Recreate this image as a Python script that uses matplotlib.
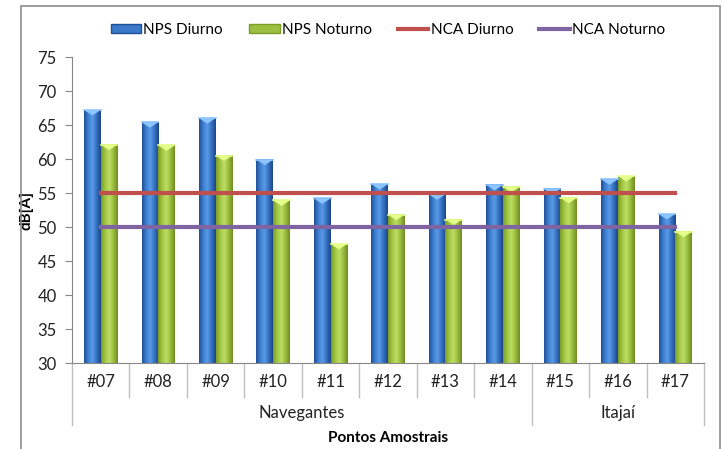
import matplotlib
matplotlib.use("Agg")
import matplotlib.pyplot as plt
import numpy as np
from matplotlib.colors import LinearSegmentedColormap
from matplotlib.lines import Line2D
from matplotlib.patches import Rectangle

categories = ["#07", "#08", "#09", "#10", "#11", "#12", "#13", "#14", "#15", "#16", "#17"]
groups = ["Navegantes", "Itajaí"]
group_sizes = [8, 3]
nps_diurno = [67.2, 65.4, 66.0, 59.9, 54.2, 56.3, 54.8, 56.2, 55.6, 57.0, 51.9]
nps_noturno = [62.1, 62.0, 60.5, 53.9, 47.5, 51.8, 51.1, 55.9, 54.3, 57.5, 49.3]
nca_diurno = 55
nca_noturno = 50
yticks = [30, 35, 40, 45, 50, 55, 60, 65, 70, 75]

plt.rcParams['font.family'] = ['Lato', 'DejaVu Sans']

fig = plt.figure(figsize=(7.22, 4.49), dpi=100)
# chart border
fig.patches.append(Rectangle((21/722, -0.1), (720-21)/722, 1 - 6/449 + 0.1,
                             transform=fig.transFigure, fill=False,
                             edgecolor="#8c8c8c", linewidth=1.2))
ax = fig.add_axes([72/722, 1 - 363/449, (704-72)/722, (363-57)/449])

x = np.arange(len(categories))
w = 0.29

blue_cmap = LinearSegmentedColormap.from_list("b", ["#1f4f98", "#3d7fd0", "#5a9ae6", "#3470c0", "#1c4788"])
green_cmap = LinearSegmentedColormap.from_list("g", ["#7c9c26", "#a2c744", "#bedd66", "#98bb3c", "#6f8c22"])
grad = np.linspace(0, 1, 64).reshape(1, -1)

b1 = ax.bar(x - w/2, nps_diurno, w, bottom=0, color="#3a78c8")
b2 = ax.bar(x + w/2, nps_noturno, w, bottom=0, color="#9bc040")
for bars, cmap, capc in ((b1, blue_cmap, "#8cc4ff"), (b2, green_cmap, "#e4ff8a")):
    for p in bars:
        x0, y0 = p.get_x(), 30
        x1, y1 = x0 + p.get_width(), p.get_height()
        p.set_visible(False)
        ax.imshow(grad, cmap=cmap, aspect="auto", extent=(x0, x1, y0, y1), zorder=2)
        ax.fill([x0, x1, (x0 + x1)/2], [y1, y1, y1 - 0.8], color=capc, zorder=3, lw=0)
        ax.plot([x0, x1], [y1, y1], color=capc, lw=1.2, zorder=3)

ax.plot([x[0], x[-1]], [nca_diurno, nca_diurno], color="#c0504d", lw=3, zorder=4)
ax.plot([x[0], x[-1]], [nca_noturno, nca_noturno], color="#8064a2", lw=3, zorder=4)

ax.set_xlim(-0.5, len(categories) - 0.5)
ax.set_ylim(30, 75)
ax.set_yticks(yticks)
ax.tick_params(axis="y", labelsize=12, length=5, color="#888888", labelcolor="#222222", pad=6)
ax.tick_params(axis="x", bottom=False, labelbottom=False)
for s in ("top", "right"):
    ax.spines[s].set_visible(False)
ax.spines["left"].set_color("#888888")
ax.spines["bottom"].set_color("#888888")
ax.set_ylabel("dB[A]", fontsize=11, fontweight="bold", labelpad=3)

# multi-level category axis
trans = ax.get_xaxis_transform()
ypx = lambda py: -(py - 363) / (363 - 57)
for i, c in enumerate(categories):
    ax.text(i, ypx(382), c, transform=trans, ha="center", va="center", fontsize=12, color="#222222")
for i in range(len(categories) + 1):
    xb = i - 0.5
    major = i in (0, group_sizes[0], len(categories))
    ax.plot([xb, xb], [0, ypx(425 if major else 397)], transform=trans, color="#c0c0c0",
            lw=1, clip_on=False)
start = 0
for g, n in zip(groups, group_sizes):
    ax.text(start + (n - 1) / 2, ypx(413), g, transform=trans, ha="center", va="center",
            fontsize=12, color="#222222")
    start += n
ax.text(0.5, ypx(438), "Pontos Amostrais", transform=ax.transAxes, ha="center", va="center",
        fontsize=11, fontweight="bold")

handles = [Rectangle((0, 0), 1, 1, facecolor="#3a78c8", edgecolor="#1f4f98"),
           Rectangle((0, 0), 1, 1, facecolor="#9bc040", edgecolor="#7c9c26"),
           Line2D([], [], color="#c0504d", lw=3),
           Line2D([], [], color="#8064a2", lw=3)]
fig.legend(handles, ["NPS Diurno", "NPS Noturno", "NCA Diurno", "NCA Noturno"],
           loc="center", bbox_to_anchor=(388/722, 1 - 30/449), ncol=4, frameon=False,
           fontsize=11, handlelength=2.0, handleheight=0.5, handletextpad=0.15,
           columnspacing=1.7)

fig.savefig("out.png", dpi=100)
